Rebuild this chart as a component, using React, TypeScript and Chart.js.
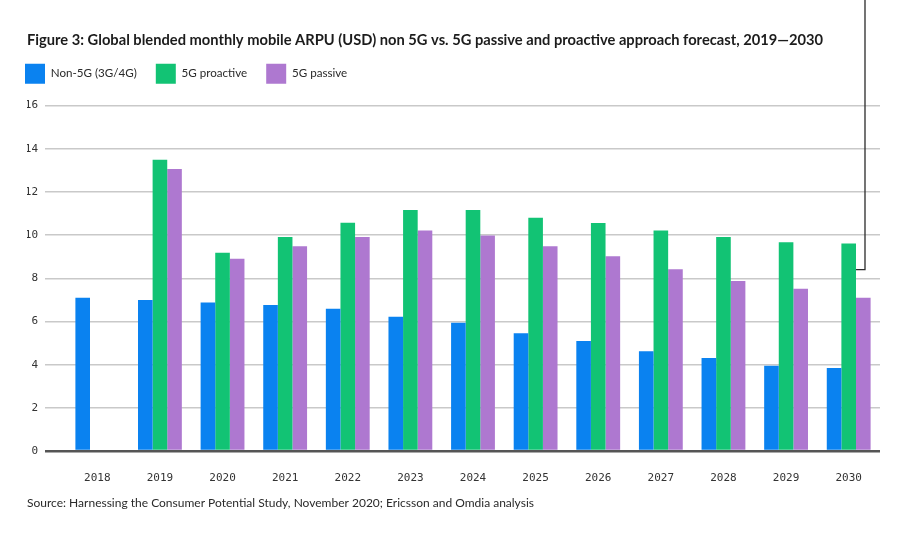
import { useEffect, useRef } from "react";
import { Chart, registerables } from "chart.js";

Chart.register(...registerables);

const years = ["2018", "2019", "2020", "2021", "2022", "2023", "2024", "2025", "2026", "2027", "2028", "2029", "2030"];
const non5G = [7.1, 7.0, 6.88, 6.76, 6.59, 6.22, 5.94, 5.46, 5.1, 4.62, 4.31, 3.95, 3.85];
const proactive5G = [null, 13.49, 9.19, 9.91, 10.57, 11.16, 11.16, 10.81, 10.56, 10.22, 9.91, 9.67, 9.61];
const passive5G = [null, 13.07, 8.91, 9.49, 9.91, 10.22, 9.98, 9.49, 9.02, 8.42, 7.88, 7.52, 7.1];
const yMin = 0;
const yMax = 16;
const yStep = 2;
const calloutValue = 8.4;

const titleText =
  "Figure 3: Global blended monthly mobile ARPU (USD) non 5G vs. 5G passive and proactive approach forecast, 2019\u20142030";
const sourceText =
  "Source: Harnessing the Consumer Potential Study, November 2020; Ericsson and Omdia analysis";

const BLUE = "#0A82F0";
const GREEN = "#12C374";
const PURPLE = "#AE78D0";

const calloutPlugin = {
  id: "callout",
  afterDatasetsDraw(chart: any) {
    const meta = chart.getDatasetMeta(1);
    const bar: any = meta.data[meta.data.length - 1];
    if (!bar) return;
    const ctx = chart.ctx;
    const y = chart.scales.y.getPixelForValue(calloutValue);
    const edge = bar.x + bar.width / 2;
    const xv = edge + 9;
    ctx.save();
    ctx.strokeStyle = "#2b2b2b";
    ctx.lineWidth = 1.3;
    ctx.beginPath();
    ctx.moveTo(xv, 0);
    ctx.lineTo(xv, y);
    ctx.lineTo(edge, y);
    ctx.stroke();
    ctx.restore();
  },
};

const legendShiftPlugin = {
  id: "legendShift",
  afterLayout(chart: any) {
    const l = chart.legend;
    if (!l) return;
    l.left -= 21;
    l.right -= 21;
    l.top -= 12;
    l.bottom -= 12;
  },
};

const bgPlugin = {
  id: "bg",
  beforeDraw(chart: any) {
    const ctx = chart.ctx;
    ctx.save();
    ctx.fillStyle = "#ffffff";
    ctx.fillRect(0, 0, chart.width, chart.height);
    ctx.restore();
  },
};

export default function App() {
  const ref = useRef<HTMLCanvasElement>(null);

  useEffect(() => {
    if (!ref.current) return;
    const chart = new Chart(ref.current, {
      type: "bar",
      data: {
        labels: years,
        datasets: [
          { label: "Non-5G (3G/4G)", data: non5G, backgroundColor: BLUE },
          { label: "5G proactive", data: proactive5G as any, backgroundColor: GREEN },
          { label: "5G passive", data: passive5G as any, backgroundColor: PURPLE },
        ],
      },
      options: {
        animation: false,
        responsive: false,
        datasets: {
          bar: { barPercentage: 1.0, categoryPercentage: 0.7 },
        },
        layout: { padding: { top: 31, left: 27, right: 40, bottom: 46 } },
        plugins: {
          title: {
            display: true,
            text: titleText,
            align: "start",
            color: "#1c1c1c",
            font: { family: "Lato", size: 14.7, weight: "bold", lineHeight: 1.2 },
            padding: { top: 0, bottom: 8 },
          },
          subtitle: {
            display: true,
            text: sourceText,
            position: "bottom",
            align: "start",
            color: "#2a2a2a",
            font: { family: "Lato", size: 12, lineHeight: 1.2 },
            padding: { top: 4.6, bottom: 0 },
          },
          legend: {
            display: true,
            align: "start",
            labels: {
              boxWidth: 20,
              boxHeight: 20,
              padding: 19,
              color: "#2a2a2a",
              font: { family: "Lato", size: 11.6 },
            },
          },
          tooltip: { enabled: false },
        },
        scales: {
          x: {
            grid: { display: false, drawTicks: false },
            border: { display: false },
            afterFit: (scale: any) => {
              scale.height = 40;
            },
            ticks: {
              padding: 21,
              color: "#333",
              font: { family: "DejaVu Sans Mono", size: 11 },
            },
          },
          y: {
            min: yMin,
            max: yMax,
            border: { display: false },
            afterFit: (scale: any) => {
              scale.width = 39;
            },
            grid: {
              drawTicks: true,
              tickLength: 21,
              color: (c: any) => (c.tick && c.tick.value === 0 ? "#555555" : "#c9c9c9"),
              lineWidth: (c: any) => (c.tick && c.tick.value === 0 ? 2.5 : 1.5),
            },
            ticks: {
              stepSize: yStep,
              padding: 7,
              color: "#333",
              font: { family: "DejaVu Sans Mono", size: 11 },
            },
          },
        },
      },
      plugins: [bgPlugin, legendShiftPlugin, calloutPlugin],
    });
    return () => chart.destroy();
  }, []);

  return (
    <div style={{ position: "absolute", left: 0, top: 0, width: 920, height: 556, background: "#fff" }}>
      <canvas ref={ref} width={920} height={556} />
    </div>
  );
}
